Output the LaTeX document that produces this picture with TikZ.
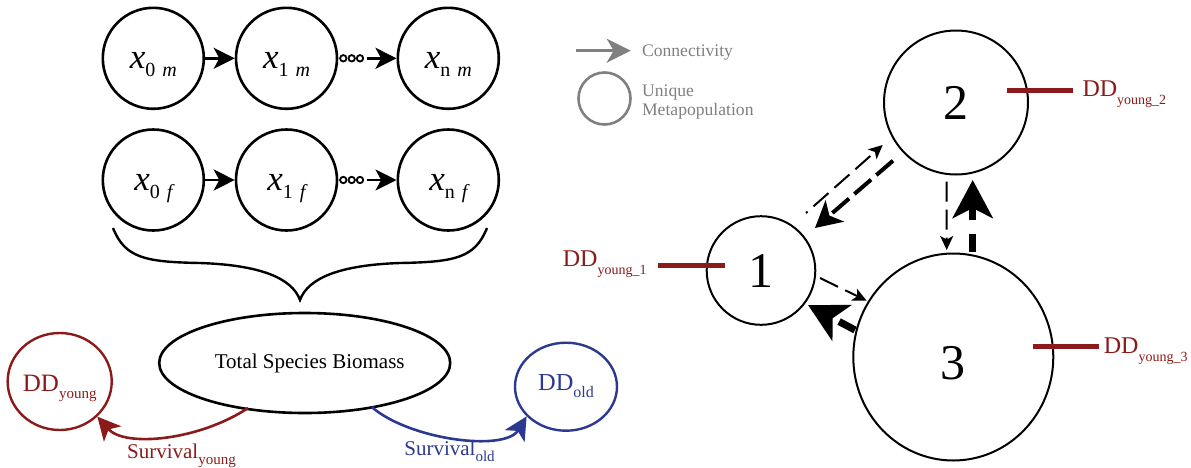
\documentclass[tikz,border=0pt]{standalone}
\usepackage{fontspec}
\setmainfont{Liberation Serif}
\usetikzlibrary{arrows.meta,shapes.geometric,calc}
\definecolor{ddred}{RGB}{139,27,27}
\definecolor{ddblue}{RGB}{43,57,144}
\definecolor{leggray}{RGB}{128,128,128}
\newcommand\fsz[1]{\fontsize{#1}{#1}\selectfont}
\newcommand\xlab[2]{{\fsz{17.5}\itshape x}\raisebox{-4.3pt}{\fsz{10}#1\hspace{3.5pt}\itshape #2}}
\begin{document}
\begin{tikzpicture}[x=0.5pt,y=-0.5pt,
  pop/.style={circle,draw,line width=1.3pt,minimum size=50.5pt,inner sep=0pt,text height=10pt,text depth=0pt},
  blkarr/.style={line width=1.3pt,-{Stealth[length=10.5pt,width=10.5pt,inset=2.8pt]}},
  net/.style={draw,line width=1pt,inner sep=0pt},
  ddline/.style={ddred,line width=2.5pt},
  ddlab/.style={text=ddred,inner sep=0pt},
  thinarr/.style={line width=1pt,dash pattern=on 10pt off 4pt,-{Stealth[length=7pt,width=6.5pt,inset=1.8pt]}},
  medarr/.style={line width=2pt,dash pattern=on 11pt off 3.5pt,-{Stealth[length=13pt,width=14pt,inset=3.5pt]}},
  thickarr/.style={line width=3.6pt,dash pattern=on 9pt off 7pt,-{Stealth[length=19pt,width=20pt,inset=5pt]}},
  legtext/.style={anchor=base west,text=leggray,inner sep=0pt,font=\fsz{8.8}}
]
\useasboundingbox (0,0) rectangle (1191,467);

% --- stage chains ---
\node[pop] (m0) at (153.3,58.3) {\xlab{0}{m}};
\node[pop] (m1) at (286.5,58.3) {\xlab{1}{m}};
\node[pop] (mn) at (448.3,58.3) {\xlab{n}{m}};
\node[pop] (f0) at (153.3,180) {\xlab{0}{f}};
\node[pop] (f1) at (286.5,180) {\xlab{1}{f}};
\node[pop] (fn) at (448.3,180) {\xlab{n}{f}};

\draw[blkarr] (m0) -- (m1);
\draw[blkarr] (f0) -- (f1);
\foreach \dx in {5,13.4,21.7} {
  \draw[line width=0.9pt] ([shift={(\dx,0)}]m1.east) circle[radius=1.6pt];
  \draw[line width=0.9pt] ([shift={(\dx,0)}]f1.east) circle[radius=1.6pt];
}
\draw[blkarr] ([shift={(28.4,0)}]m1.east) -- (mn);
\draw[blkarr] ([shift={(28.4,0)}]f1.east) -- (fn);

% --- brace ---
\draw[line width=1.2pt] (113,228) .. controls (125,258) and (145,262) .. (200,263)
  .. controls (260,265) and (292,278) .. (300,300)
  .. controls (308,278) and (340,265) .. (400,263)
  .. controls (455,262) and (475,258) .. (487,228);

% --- biomass ---
\node[ellipse,draw,line width=1.3pt,minimum width=145.5pt,minimum height=50pt,inner sep=0pt] (tot) at (304.7,363) {\fsz{10.5}\hspace*{5pt}Total Species Biomass};
\node[ellipse,draw=ddred,line width=1.2pt,minimum width=50.35pt,minimum height=48.5pt,inner sep=0pt,text=ddred,text height=10pt,text depth=0pt] (dy) at (59.7,381.5) {\fsz{12.5}DD\raisebox{-3.5pt}{\fsz{7.5}young}};
\node[ellipse,draw=ddblue,line width=1.2pt,minimum width=51pt,minimum height=44pt,inner sep=0pt,text=ddblue,text height=8.5pt,text depth=4.5pt] (do) at (566,386.7) {\fsz{12.2}DD\raisebox{-3.3pt}{\fsz{8}old}};

\draw[ddred,line width=1.3pt,-{Stealth[length=11.5pt,width=11.5pt,inset=3pt]}] ([shift={(-56.7,45)}]tot.center) .. controls (200,440) and (125,448) .. (dy.-43);
\draw[ddblue,line width=1.3pt,-{Stealth[length=11.5pt,width=11.5pt,inset=3pt]}] ([shift={(67,44)}]tot.center) .. controls (410,440) and (505,452) .. (do.217);

\node[anchor=base west,text=ddred,inner sep=0pt] (sy) at (126.7,458) {\fsz{10.5}Survival\raisebox{-3.2pt}{\fsz{7.5}young}};
\node[anchor=base west,text=ddblue,inner sep=0pt] (so) at (404,455) {\fsz{10.5}Survival\raisebox{-3.3pt}{\fsz{7.5}old}};

% --- legend ---
\coordinate (la) at (576,50.7);
\coordinate (lb) at (630.7,50.7);
\draw[leggray,line width=1.4pt,-{Stealth[length=12pt,width=12pt,inset=3.5pt]}] (la) -- (lb);
\node[legtext] (lconn) at (641.7,56) {Connectivity};
\node[circle,draw=leggray,line width=1.3pt,minimum size=26pt,inner sep=0pt] (lcirc) at (604.5,98.5) {};
\node[legtext] (luni) at (641.7,96) {Unique};
\node[legtext] (lmeta) at (641.7,115) {Metapopulation};

% --- network ---
\node[net,circle,minimum size=54.3pt] (c1) at (761,270.5) {\fsz{25}1};
\node[net,circle,minimum size=72pt] (c2) at (956,102.5) {\fsz{25}2};
\node[net,ellipse,minimum width=100pt,minimum height=103.5pt,text height=22pt,text depth=0pt] (c3) at (953.3,357) {\fsz{25}3};

\draw[thinarr,dash phase=9pt] ([shift={(45,-57.5)}]c1.center) -- ([shift={(-73.3,42.5)}]c2.center);
\draw[medarr] ([shift={(-63,58.2)}]c2.center) -- ([shift={(54,-42.5)}]c1.center);
\draw[thinarr] ([shift={(-9.3,79.2)}]c2.center) -- ([shift={(-6.6,-107)}]c3.center);
\draw[thickarr] ([shift={(19.4,-105.3)}]c3.center) -- ([shift={(16.7,77.5)}]c2.center);
\draw[thinarr] ([shift={(59,7.5)}]c1.center) -- ([shift={(-86.6,-56.3)}]c3.center);
\draw[thickarr] ([shift={(-98.3,-27)}]c3.center) -- ([shift={(47,34.5)}]c1.center);

% --- DD lines ---
\draw[ddline] ([shift={(-103,-5.5)}]c1.center) node[ddlab,anchor=base east,xshift=-4.5pt,yshift=-0.5pt] (l1) {\fsz{12}DD\raisebox{-4pt}{\fsz{7}young\_1}} -- ++(67,0);
\draw[ddline] ([shift={(50.7,-12.5)}]c2.center) -- ++(66.3,0) node[ddlab,anchor=base west,xshift=3.5pt,yshift=-3.35pt] (l2) {\fsz{12}DD\raisebox{-4pt}{\fsz{7}young\_2}};
\draw[ddline] ([shift={(79.4,-11)}]c3.center) -- ++(66.3,0) node[ddlab,anchor=base west,xshift=1.2pt,yshift=-3.65pt] (l3) {\fsz{12}DD\raisebox{-4pt}{\fsz{7}young\_3}};
\end{tikzpicture}
\end{document}
